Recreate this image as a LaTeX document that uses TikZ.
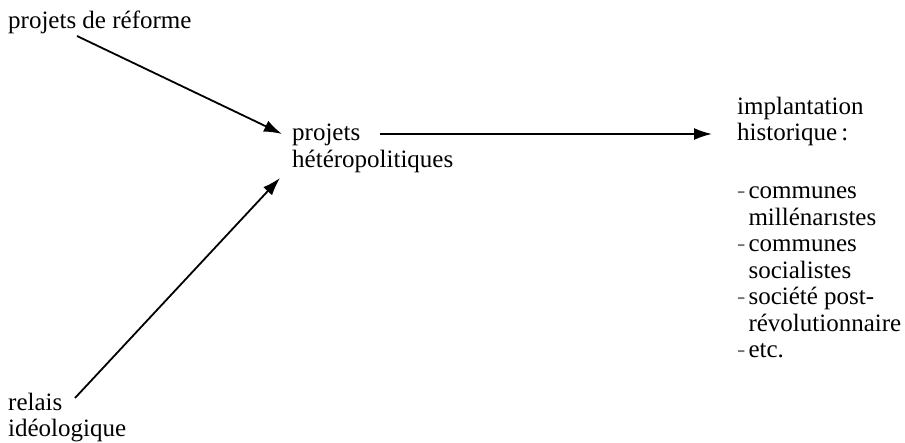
\documentclass[tikz,border=0pt]{standalone}
\usepackage{fontspec}
\setmainfont{Liberation Serif}
\usetikzlibrary{arrows.meta}
\usetikzlibrary{positioning}

\begin{document}
\begin{tikzpicture}
[
	x = 1pt, y = 1pt,
	txt/.style	= {anchor = base west, inner sep = 0pt, font = \fontsize{25}{26.5}\selectfont},
	link/.style	= {-{Latex[length = 18pt, width = 12pt]}, line width = 1.8pt},
	tiret/.style	= {black!55},
]
	\useasboundingbox (0,0) rectangle (905,-443);

	\node (reforme) [txt] at (8,-29) {projets de réforme};
	\node (projets) [txt] at (292,-141) {\begin{tabular}[t]{@{}l@{}}projets\\hétéropolitiques\end{tabular}};
	\node (relais) [txt] at (8,-410) {\begin{tabular}[t]{@{}l@{}}relais\\idéologique\end{tabular}};
	%
	\node (implantation) [txt] at (737,-141) {\begin{tabular}[b]{@{}l@{}}implantation\\historique\,:\end{tabular}};
	\node (exemples) [txt] at (737,-199) {\begin{tabular}[t]{@{}l@{\hspace{3pt}}l@{}}
		\textcolor{black!55}{-} & communes\\
		& millénar\i stes\\
		\textcolor{black!55}{-} & communes\\
		& socialistes\\
		\textcolor{black!55}{-} & société post-\\
		& révolutionnaire\\
		\textcolor{black!55}{-} & etc.
	\end{tabular}};

	\draw [link] ([xshift = 69pt, yshift = -7pt]reforme.base west) -- ([xshift = -10pt, yshift = 7pt]projets.base west);
	\draw [link] ([xshift = 67pt, yshift = 12pt]relais.base west) -- ([xshift = -12pt, yshift = -37pt]projets.base west);
	\draw [link] ([xshift = 88pt, yshift = 7pt]projets.base west) -- ([xshift = -25pt, yshift = 7pt]implantation.base west);

\end{tikzpicture}
\end{document}
